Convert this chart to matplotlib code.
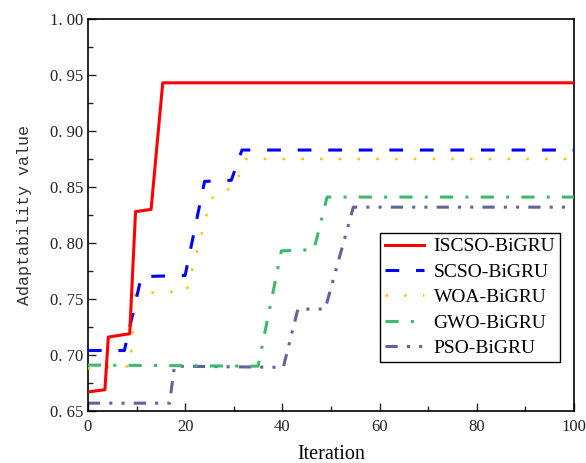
import matplotlib.pyplot as plt
from matplotlib.ticker import MultipleLocator, FuncFormatter

# ----- curve data (iteration, fitness) -----
iscso_x = [0, 3.5, 4.2, 8.6, 9.8, 13, 15.4, 100]
iscso_y = [0.667, 0.669, 0.716, 0.719, 0.828, 0.830, 0.943, 0.943]

scso_x = [0, 7.5, 11, 20, 24, 29.5, 31.7, 100]
scso_y = [0.704, 0.704, 0.770, 0.771, 0.855, 0.856, 0.883, 0.883]

woa_x = [0, 8.7, 9.8, 20.3, 25.2, 26.8, 30, 32.5, 100]
woa_y = [0.688, 0.690, 0.755, 0.757, 0.838, 0.846, 0.849, 0.875, 0.875]

gwo_x = [0, 35, 39.8, 46.5, 49.2, 100]
gwo_y = [0.691, 0.690, 0.793, 0.794, 0.841, 0.841]

pso_x = [0, 16.8, 17.8, 40.2, 43.2, 48.8, 54.6, 100]
pso_y = [0.657, 0.657, 0.690, 0.689, 0.741, 0.741, 0.832, 0.832]

labels = ['ISCSO-BiGRU', 'SCSO-BiGRU', 'WOA-BiGRU', 'GWO-BiGRU', 'PSO-BiGRU']

serif = 'Liberation Serif'
mono = 'Liberation Mono'

fig = plt.figure(figsize=(5.86, 4.63), dpi=100)
ax = fig.add_axes([0.150, 0.1123, 0.8295, 0.8467])

# ----- the five convergence curves -----
ax.plot(iscso_x, iscso_y, color='#ff0000', lw=2.2, ls='-', label=labels[0], zorder=6)
ax.plot(scso_x, scso_y, color='#0000ff', lw=2.2, ls=(0, (4.5, 5.5)), label=labels[1], zorder=5)
ax.plot(woa_x, woa_y, color='#ffc000', lw=1.8, ls=(0, (1, 6.5)), label=labels[2], zorder=4)
ax.plot(gwo_x, gwo_y, color='#3cb96c', lw=2.2, ls=(0, (4.3, 4, 1, 4)), label=labels[3], zorder=3)
ax.plot(pso_x, pso_y, color='#62629c', lw=2.2, ls=(0, (4, 3, 1, 3, 1, 3)), label=labels[4], zorder=2)

# ----- axes -----
ax.set_xlim(0, 100)
ax.set_ylim(0.65, 1.0)
ax.xaxis.set_major_locator(MultipleLocator(20))
ax.xaxis.set_minor_locator(MultipleLocator(10))
ax.yaxis.set_major_locator(MultipleLocator(0.05))
ax.yaxis.set_minor_locator(MultipleLocator(0.025))
# the source font leaves a gap after the decimal point
ax.yaxis.set_major_formatter(FuncFormatter(lambda v, p: ('%.2f' % v).replace('.', '. ')))
ax.tick_params(which='both', direction='in', width=1.0, colors='#222222')
ax.tick_params(which='major', length=6)
ax.tick_params(axis='x', pad=6)
ax.tick_params(which='minor', length=3.5)
for lab in ax.get_xticklabels():
    lab.set_fontfamily(serif)
    lab.set_fontsize(12)
for lab in ax.get_yticklabels():
    lab.set_fontfamily(serif)
    lab.set_fontsize(12)
for s in ax.spines.values():
    s.set_linewidth(1.2)

ax.set_xlabel('Iteration', fontfamily=serif, fontsize=14.5, labelpad=7)
ax.set_ylabel('Adaptability value', fontfamily=mono, fontsize=12, labelpad=13, color='#333333')

# ----- legend -----
leg = ax.legend(loc='upper left', bbox_to_anchor=(0.601, 0.454),
                prop={'family': serif, 'size': 14}, frameon=True, fancybox=False,
                edgecolor='black', framealpha=1, handlelength=2.0, handletextpad=0.5,
                labelspacing=0.4, borderpad=0.25, borderaxespad=0)
leg.get_frame().set_linewidth(1.0)

fig.savefig('out.png', dpi=100)
